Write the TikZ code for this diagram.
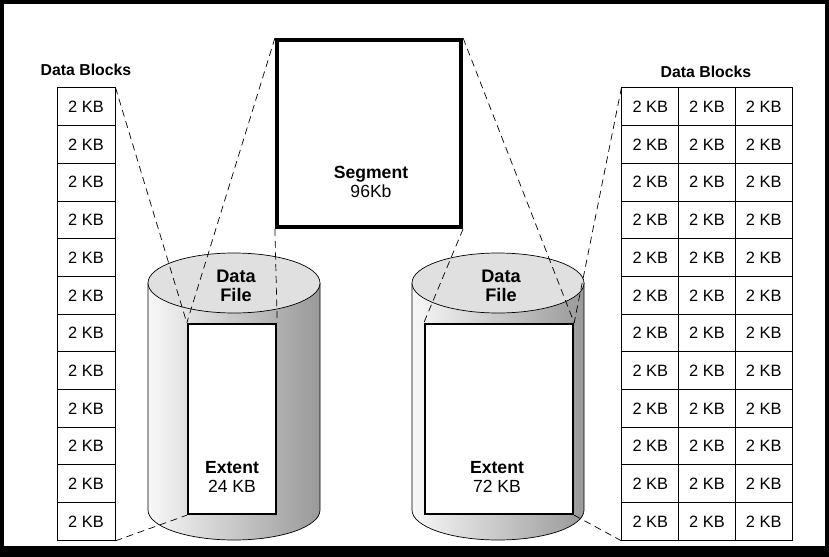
\documentclass[tikz,border=0pt]{standalone}
\usepackage{fontspec}
\setmainfont{Liberation Sans}
\begin{document}
\begin{tikzpicture}[x=0.03cm,y=-0.03cm,
  blk/.style={draw,line width=0.8pt,minimum width=58*0.03cm,minimum height=37.7*0.03cm,inner sep=0pt,font=\fontsize{14}{15}\selectfont},
  gblk/.style={blk,minimum width=56.7*0.03cm},
  dsh/.style={dashed,dash pattern=on 6pt off 4pt,line width=0.6pt},
  ttl/.style={font=\bfseries\fontsize{13.5}{15}\selectfont},
  lbl/.style={font=\fontsize{15}{16}\selectfont,align=center}]
\useasboundingbox (0,0) rectangle (829,557);
\fill[white] (0,0) rectangle (829,557);
\draw[line width=4pt] (2,2) rectangle (827,548);
\fill[black] (0,548) rectangle (829,557);
% titles
\node[ttl] (t1) at (86,70) {Data Blocks};
\node[ttl] (t2) at (706,72) {Data Blocks};
% left column
\foreach \i in {0,...,11}{
  \node[blk] (L\i) at (86,{106.8+37.7*\i}) {2 KB};
}
% right grid
\foreach \i in {0,...,11}{
  \foreach \j in {0,1,2}{
    \node[gblk] (R\i-\j) at ({650.3+56.7*\j},{106.8+37.7*\i}) {2 KB};
  }
}
% cylinders
\foreach \cx/\nm in {234/A,498/B}{
  \shade[left color=black!3,right color=black!40] (\cx-86,283) -- (\cx-86,510) arc[start angle=180,end angle=0,x radius=86,y radius=30] -- (\cx+86,283) -- cycle;
  \draw[line width=0.6pt] (\cx-86,283) -- (\cx-86,510) arc[start angle=180,end angle=0,x radius=86,y radius=30] -- (\cx+86,283);
  \draw[line width=0.6pt,fill=black!12] (\cx,283) ellipse[x radius=86,y radius=30];
}
\node[lbl,font=\bfseries\fontsize{15.5}{16.5}\selectfont] (df1) at (236,286) {Data\\File};
\node[lbl,font=\bfseries\fontsize{15.5}{16.5}\selectfont] (df2) at (501,286) {Data\\File};
% extents
\node[draw,fill=white,line width=2pt,minimum width=88*0.03cm,minimum height=190*0.03cm] (E1) at (232,419) {};
\node[draw,fill=white,line width=2pt,minimum width=148*0.03cm,minimum height=190*0.03cm] (E2) at (499,419) {};
\node[lbl] at (232,477) {\textbf{Extent}\\24 KB};
\node[lbl] at (497,477) {\textbf{Extent}\\72 KB};
% segment
\node[draw,fill=white,line width=3.5pt,minimum width=184*0.03cm,minimum height=187*0.03cm] (S) at (369,133.5) {};
\node[lbl] at (371,182) {\textbf{Segment}\\96Kb};
% dashed connectors
\draw[dsh] (L0.north east) -- (E1.north west);
\draw[dsh] (L11.south east) -- (E1.south west);
\draw[dsh] (S.north west) -- (E1.north west);
\draw[dsh] (S.south west) -- (E1.north east);
\draw[dsh] (S.north east) -- (E2.north east);
\draw[dsh] (S.south east) -- (E2.north west);
\draw[dsh] (R0-0.north west) -- (E2.north east);
\draw[dsh] (R11-0.south west) -- (E2.south east);
\end{tikzpicture}
\end{document}
